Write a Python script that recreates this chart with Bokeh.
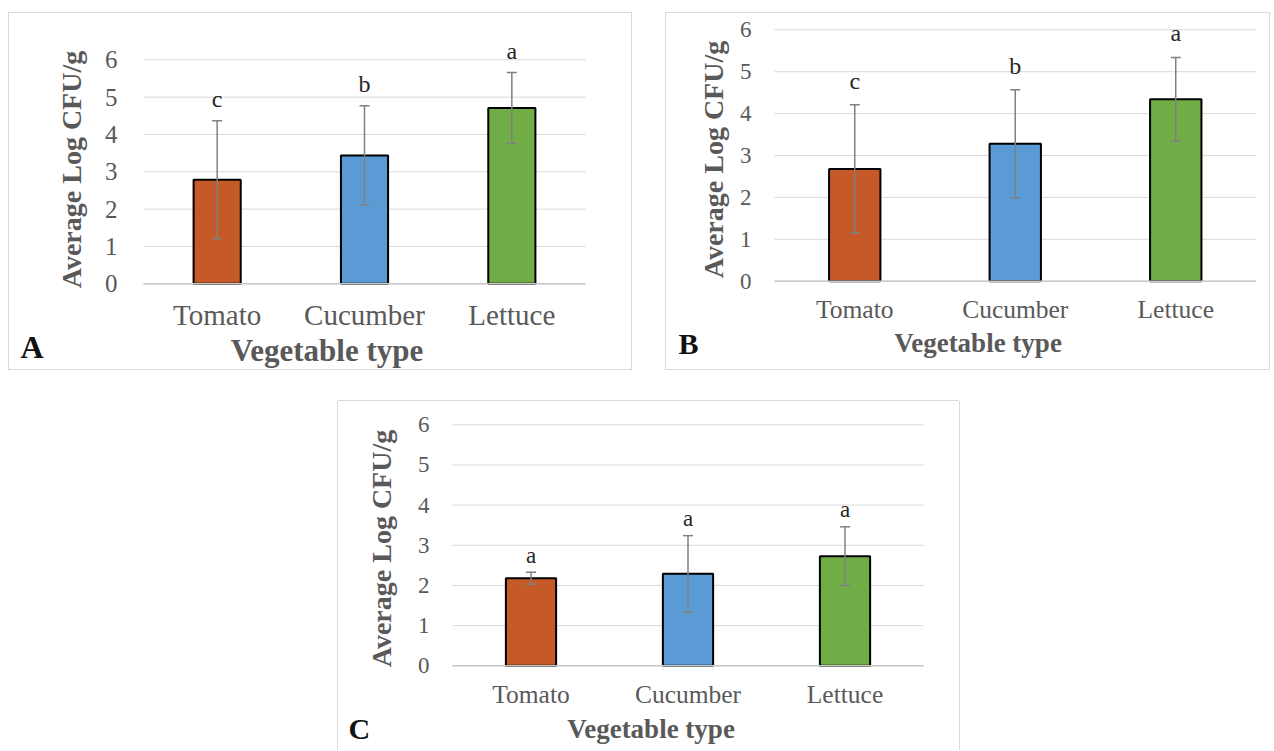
import math
from bokeh.plotting import figure
from bokeh.models import (ColumnDataSource, Range1d, FixedTicker, Whisker, TeeHead,
                          LabelSet, Label, LinearAxis, Spacer)
from bokeh.layouts import row, column
from bokeh.core.properties import value
from bokeh.embed import file_html
from bokeh.resources import INLINE

categories = ["Tomato", "Cucumber", "Lettuce"]
bar_colors = ["#C55A28", "#5B9BD5", "#70AD47"]
y_ticks = [0, 1, 2, 3, 4, 5, 6]

mean_A = [2.79, 3.44, 4.71]
err_A = [1.58, 1.33, 0.95]
letters_A = ["c", "b", "a"]

mean_B = [2.68, 3.28, 4.34]
err_B = [1.53, 1.29, 1.00]
letters_B = ["c", "b", "a"]

mean_C = [2.18, 2.29, 2.73]
err_C = [0.15, 0.95, 0.73]
letters_C = ["a", "a", "a"]

y_title = "Average Log CFU/g"
x_title = "Vegetable type"

FONT = "Liberation Serif"
GRAY_TXT = "#595959"
ERR = "#808080"
GRID = "#d9d9d9"
BASE_K = 0.34  # correction of the baseline placement (in em)


def make_panel(means, errs, letters, tag, cfg):
    n = len(categories)
    xs = [i + 1 for i in range(n)]
    w, h = cfg["w"], cfg["h"]
    L, R, y0, ppu = cfg["L"], cfg["R"], cfg["y0"], cfg["ppu"]
    cw = (R - L) / n
    x_start = 0.5 - L / cw
    x_end = n + 0.5 + (w - R) / cw
    y_start = -(h - y0) / ppu
    y_end = y0 / ppu

    src = ColumnDataSource(dict(
        x=xs, mean=means, color=bar_colors,
        upper=[m + e for m, e in zip(means, errs)],
        lower=[m - e for m, e in zip(means, errs)],
        letter=letters))
    grid_src = ColumnDataSource(dict(y=y_ticks, x0=[0.5] * len(y_ticks),
                                     x1=[n + 0.5] * len(y_ticks)))

    p = figure(x_range=Range1d(x_start, x_end), y_range=Range1d(y_start, y_end),
               width=w, height=h, min_border=0,
               min_border_left=0, min_border_right=0, min_border_top=0, min_border_bottom=0,
               x_axis_location=None, y_axis_location=None,
               toolbar_location=None, output_backend="svg",
               styles=cfg["styles"])
    p.background_fill_color = "white"
    p.border_fill_color = "white"
    p.outline_line_color = None
    p.grid.visible = False

    # horizontal gridlines over the plot area
    p.segment(x0="x0", x1="x1", y0="y", y1="y", source=grid_src,
              line_color=GRID, line_width=1)

    p.vbar(x="x", top="mean", width=0.32, source=src, fill_color="color",
           line_color="black", line_width=2)
    # category axis line (drawn over the bar bottoms)
    p.segment(x0=0.5, x1=n + 0.5, y0=y_ticks[0], y1=y_ticks[0],
              line_color="#c8c8c8", line_width=1.5)

    head_u = TeeHead(size=10, line_color=ERR, line_width=1.5)
    head_l = TeeHead(size=10, line_color=ERR, line_width=1.5)
    p.add_layout(Whisker(source=src, base="x", upper="upper", lower="lower",
                         dimension="height", line_color=ERR, line_width=1.5,
                         upper_head=head_u, lower_head=head_l, level="overlay"))

    p.add_layout(LabelSet(x="x", y="upper", text="letter", source=src,
                          text_align="center", text_baseline="middle",
                          y_offset=cfg["loff"], text_font=value(FONT),
                          text_font_size=value(f"{cfg['lfs']}px"),
                          text_color="#262626"))

    yax = LinearAxis(fixed_location=0.5, ticker=FixedTicker(ticks=y_ticks))
    xax = LinearAxis(fixed_location=y_ticks[0], ticker=FixedTicker(ticks=xs),
                     major_label_overrides={x: c for x, c in zip(xs, categories)})
    for ax in (xax, yax):
        ax.axis_line_color = None
        ax.major_tick_line_color = None
        ax.minor_tick_line_color = None
        ax.major_label_text_font = FONT
        ax.major_label_text_color = GRAY_TXT
    yax.major_label_text_font_size = f"{cfg['tfs']}px"
    yax.major_label_standoff = cfg["tso"]
    xax.major_label_text_font_size = f"{cfg['cfs']}px"
    xax.major_label_standoff = cfg["cso"]
    p.add_layout(yax, "left")
    p.add_layout(xax, "below")

    yx, yy = cfg["yt"]
    p.add_layout(Label(x=yx - BASE_K * cfg["ytfs"], y=yy, x_units="canvas", y_units="canvas",
                       text=y_title, angle=math.pi / 2, text_align="center",
                       text_baseline="alphabetic",
                       text_font=FONT, text_font_style="bold",
                       text_font_size=f"{cfg['ytfs']}px", text_color=GRAY_TXT))
    xx, xy = cfg["xt"]
    p.add_layout(Label(x=xx, y=xy - BASE_K * cfg["xtfs"], x_units="canvas", y_units="canvas",
                       text=x_title, text_align="center", text_baseline="alphabetic",
                       text_font=FONT, text_font_style="bold",
                       text_font_size=f"{cfg['xtfs']}px", text_color=GRAY_TXT))
    tx, ty = cfg["tag"]
    p.add_layout(Label(x=tx, y=ty - BASE_K * cfg["tagfs"], x_units="canvas", y_units="canvas",
                       text=tag, text_align="left", text_baseline="alphabetic",
                       text_font=FONT, text_font_style="bold",
                       text_font_size=f"{cfg['tagfs']}px", text_color="#111111"))
    return p


OUTLINE = {"outline": "1px solid #d9d9d9"}
OPEN_BOTTOM = {"box-shadow": "0 -1px 0 #d9d9d9, -1px 0 0 #d9d9d9, 1px 0 0 #d9d9d9"}

cfg_A = dict(w=622, h=356, L=134, R=576, y0=270.3, ppu=37.33, styles=OUTLINE,
             tfs=25, cfs=29, tso=20, cso=9,
             yt=(72, 156), ytfs=28, xt=(317.5, 348), xtfs=31, tag=(11, 344), tagfs=32,
             loff=22, lfs=24)
cfg_B = dict(w=603, h=356, L=108, R=589.5, y0=267.7, ppu=41.9, styles=OUTLINE,
             tfs=23, cfs=25.5, tso=17, cso=8,
             yt=(57, 146), ytfs=28, xt=(311.5, 338.7), xtfs=27, tag=(12, 340), tagfs=30,
             loff=24, lfs=24)
cfg_C = dict(w=621, h=349, L=114, R=585, y0=264.3, ppu=40.17, styles=OPEN_BOTTOM,
             tfs=23, cfs=25.5, tso=17, cso=8,
             yt=(53, 147), ytfs=28, xt=(312.5, 337), xtfs=27, tag=(10, 337), tagfs=30,
             loff=17, lfs=23)

pA = make_panel(mean_A, err_A, letters_A, "A", cfg_A)
pB = make_panel(mean_B, err_B, letters_B, "B", cfg_B)
pC = make_panel(mean_C, err_C, letters_C, "C", cfg_C)

layout = column(
    Spacer(width=10, height=13),
    row(Spacer(width=9, height=10), pA, Spacer(width=35, height=10), pB),
    Spacer(width=10, height=32),
    row(Spacer(width=338, height=10), pC),
)

open("out.html", "w").write(file_html(layout, INLINE))
